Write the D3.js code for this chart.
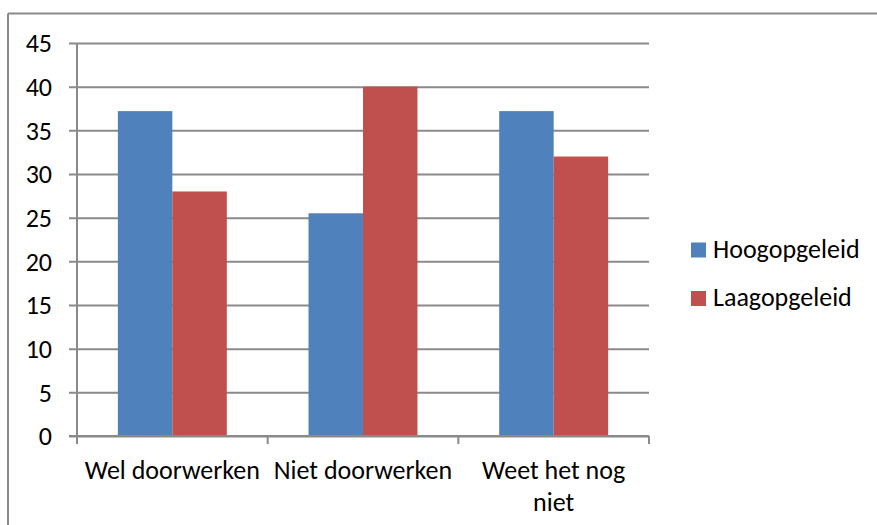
<!DOCTYPE html>
<html>
<head>
<meta charset="utf-8">
<script src="https://cdn.jsdelivr.net/npm/d3@7"></script>
<style>
  html, body { margin: 0; padding: 0; background: #fff; }
  svg { display: block; }
  text { font-family: Carlito, Calibri, "Open Sans", sans-serif; fill: #000; }
</style>
</head>
<body>
<svg id="chart" width="877" height="525"></svg>
<script>
const categories = [["Wel doorwerken"], ["Niet doorwerken"], ["Weet het nog", "niet"]];
const categoryKeys = ["Wel doorwerken", "Niet doorwerken", "Weet het nog niet"];
const seriesNames = ["Hoogopgeleid", "Laagopgeleid"];
const hoogopgeleid = [37.2, 25.5, 37.2];
const laagopgeleid = [28, 40, 32];
const yTicks = [0, 5, 10, 15, 20, 25, 30, 35, 40, 45];
const colors = ["#4F81BD", "#C0504D"];

const svg = d3.select("#chart");
const plot = { left: 77, right: 649, top: 43, bottom: 436 };
const gridColor = "#8a8a8a";
const fontSize = "26px";

// Outer frame (top and left edges visible)
svg.append("line").attr("x1", 8).attr("x2", 877).attr("y1", 13.5).attr("y2", 13.5)
  .attr("stroke", gridColor).attr("stroke-width", 2);
svg.append("line").attr("x1", 8).attr("x2", 8).attr("y1", 13.5).attr("y2", 525)
  .attr("stroke", gridColor).attr("stroke-width", 2);

const x0 = d3.scaleBand().domain(categoryKeys).range([plot.left, plot.right]).paddingInner(0).paddingOuter(0);
const y = d3.scaleLinear().domain([0, 45]).range([plot.bottom, plot.top]);

// gap width 150%: bars occupy 2 / (2 + 1.5) of band
const x1 = d3.scaleBand().domain(seriesNames).range([0, x0.bandwidth()])
  .paddingInner(0).paddingOuter(0.75);

// Gridlines with y axis
const yAxis = d3.axisLeft(y).tickValues(yTicks).tickSize(8).tickFormat(d3.format("d"));
const yg = svg.append("g").attr("transform", `translate(${plot.left},0)`).call(yAxis);
yg.select(".domain").remove();
yg.selectAll(".tick line").attr("stroke", gridColor).attr("stroke-width", 2)
  .attr("x2", -8).attr("x1", plot.right - plot.left);
yg.selectAll(".tick text").attr("x", -25).attr("dy", null).attr("y", 8.7)
  .style("font-size", fontSize).attr("fill", "#000");

// Bars
const data = categoryKeys.map((c, i) => ({ cat: c, vals: [hoogopgeleid[i], laagopgeleid[i]] }));
const groups = svg.append("g").selectAll("g").data(data).join("g")
  .attr("transform", d => `translate(${x0(d.cat)},0)`);
groups.selectAll("rect").data(d => d.vals.map((v, j) => ({ v, s: seriesNames[j], j })))
  .join("rect")
  .attr("x", d => x1(d.s))
  .attr("width", x1.bandwidth())
  .attr("y", d => y(d.v))
  .attr("height", d => y(0) - y(d.v))
  .attr("fill", d => colors[d.j]);

// Y axis line
svg.append("line").attr("x1", plot.left).attr("x2", plot.left)
  .attr("y1", plot.top).attr("y2", plot.bottom)
  .attr("stroke", gridColor).attr("stroke-width", 2);

// X axis
const xAxis = d3.axisBottom(x0).tickSize(0).tickFormat("");
const xg = svg.append("g").attr("transform", `translate(0,${plot.bottom})`).call(xAxis);
xg.select(".domain").remove();
svg.append("line").attr("x1", plot.left - 8).attr("x2", plot.right)
  .attr("y1", plot.bottom).attr("y2", plot.bottom)
  .attr("stroke", gridColor).attr("stroke-width", 2);
const boundaries = categoryKeys.map(c => x0(c)).concat([plot.right]);
svg.append("g").selectAll("line").data(boundaries).join("line")
  .attr("x1", d => d).attr("x2", d => d)
  .attr("y1", plot.bottom).attr("y2", plot.bottom + 8)
  .attr("stroke", gridColor).attr("stroke-width", 2);

// Category labels
categories.forEach((lines, i) => {
  const cx = x0(categoryKeys[i]) + x0.bandwidth() / 2;
  const t = svg.append("text").attr("text-anchor", "middle").style("font-size", fontSize);
  lines.forEach((ln, k) => {
    t.append("tspan").attr("x", cx).attr("y", 479 + k * 32).text(ln);
  });
});

// Legend
const legend = svg.append("g");
seriesNames.forEach((s, i) => {
  const ly = 250 + i * 48.5;
  legend.append("rect").attr("x", 691).attr("y", ly - 7.5).attr("width", 15).attr("height", 15)
    .attr("fill", colors[i]);
  legend.append("text").attr("x", 713).attr("y", ly + 7.5).style("font-size", fontSize).text(s);
});
</script>
</body>
</html>
